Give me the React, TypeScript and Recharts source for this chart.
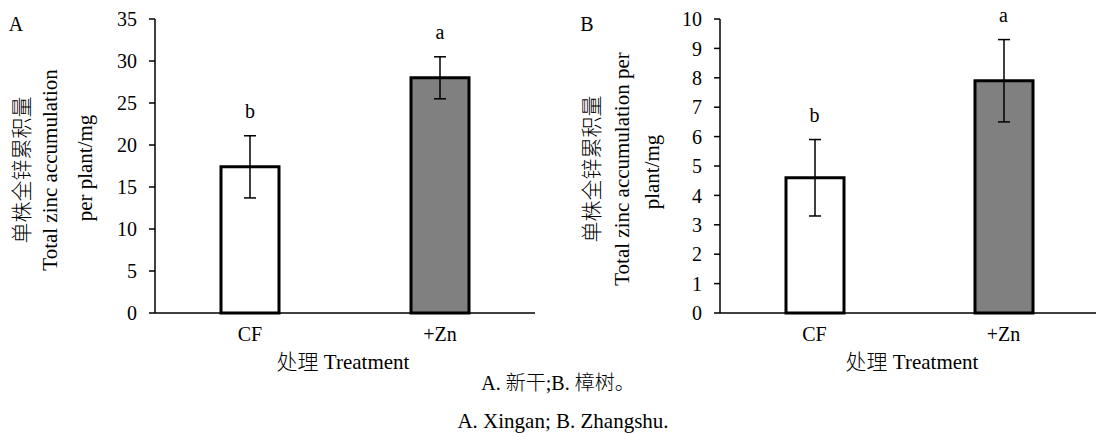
import React from 'react';
import { BarChart, Bar, XAxis, YAxis, ErrorBar, Cell, ReferenceDot } from 'recharts';

const categories = ['CF', '+Zn'];
const xinganMean = [17.4, 28.0];
const xinganErr = [3.7, 2.5];
const zhangshuMean = [4.6, 7.9];
const zhangshuErr = [1.3, 1.4];
const letters = ['b', 'a'];
const barFills = ['#ffffff', '#808080'];
const xinganTicks = [0, 5, 10, 15, 20, 25, 30, 35];
const zhangshuTicks = [0, 1, 2, 3, 4, 5, 6, 7, 8, 9, 10];
const boundaryTicks = [0, 1, 2];

const FONT = '"Liberation Serif", Tinos, "Times New Roman", Times, "DejaVu Serif", serif, "Noto Sans CJK SC"';

type PanelProps = {
  means: number[];
  errs: number[];
  yMax: number;
  yTicks: number[];
  left: number;
  width: number;
  yAxisWidth: number;
};

function Panel({ means, errs, yMax, yTicks, left, width, yAxisWidth }: PanelProps) {
  const data = categories.map((c, i) => ({ cat: c, mean: means[i], err: errs[i], letter: letters[i] }));
  return (
    <div style={{ position: 'absolute', left, top: 0 }}>
      <BarChart width={width} height={353} data={data} margin={{ top: 19, right: 2, bottom: 0, left: 0 }}>
        <XAxis
          xAxisId="tk"
          type="number"
          domain={[0, 2]}
          ticks={boundaryTicks}
          allowDataOverflow
          mirror
          axisLine={false}
          tick={false}
          tickSize={6}
          tickLine={{ stroke: '#000', strokeWidth: 1.5 }}
          height={0}
        />
        <XAxis
          xAxisId="cat"
          dataKey="cat"
          type="category"
          axisLine={{ stroke: '#000', strokeWidth: 1.5 }}
          tickLine={false}
          tickSize={0}
          tickMargin={14}
          height={40}
          tick={{ fill: '#000', fontSize: 20, fontFamily: FONT }}
        />
        <YAxis
          domain={[0, yMax]}
          ticks={yTicks}
          width={yAxisWidth}
          interval={0}
          axisLine={{ stroke: '#000', strokeWidth: 1.5 }}
          tickLine={{ stroke: '#000', strokeWidth: 1.5 }}
          tickSize={6}
          tickMargin={12}
          tick={{ fill: '#000', fontSize: 20, fontFamily: FONT }}
        />
        <Bar xAxisId="cat" dataKey="mean" barSize={58} stroke="#000" strokeWidth={3} isAnimationActive={false}>
          {data.map((d, i) => (
            <Cell key={d.cat} fill={barFills[i]} />
          ))}
          <ErrorBar dataKey="err" width={6} stroke="#000" strokeWidth={1.5} isAnimationActive={false} />
        </Bar>
        {data.map((d) => (
          <ReferenceDot
            key={'l' + d.cat}
            xAxisId="cat"
            x={d.cat}
            y={d.mean + d.err}
            r={0}
            fill="none"
            stroke="none"
            label={{ value: d.letter, position: 'top', offset: 18, fill: '#000', fontSize: 20, fontFamily: FONT }}
          />
        ))}
      </BarChart>
    </div>
  );
}

const textBase: React.CSSProperties = {
  position: 'absolute',
  fontFamily: FONT,
  fontWeight: 300,
  color: '#000',
  whiteSpace: 'nowrap',
  lineHeight: 1,
};

function RotText({ cx, cy, text, size = 21 }: { cx: number; cy: number; text: string; size?: number }) {
  return (
    <div
      style={{
        ...textBase,
        left: cx,
        top: cy,
        fontSize: size,
        transform: 'translate(-50%, -50%) rotate(-90deg)',
      }}
    >
      {text}
    </div>
  );
}

function CText({ cx, cy, text, size = 21 }: { cx: number; cy: number; text: string; size?: number }) {
  return (
    <div style={{ ...textBase, left: cx, top: cy, fontSize: size, transform: 'translate(-50%, -50%)' }}>
      {text}
    </div>
  );
}

export default function App() {
  return (
    <div
      style={{
        position: 'absolute',
        left: 0,
        top: 0,
        width: 1096,
        height: 433,
        overflow: 'hidden',
        background: '#fff',
        fontFamily: FONT,
      }}
    >
      <Panel means={xinganMean} errs={xinganErr} yMax={35} yTicks={xinganTicks} left={0} width={537} yAxisWidth={155} />
      <Panel means={zhangshuMean} errs={zhangshuErr} yMax={10} yTicks={zhangshuTicks} left={560} width={540} yAxisWidth={160} />

      <CText cx={16} cy={24} text="A" size={20} />
      <CText cx={587} cy={24} text="B" size={20} />

      <RotText cx={22} cy={170} text="单株全锌累积量" />
      <RotText cx={50} cy={170} text="Total zinc accumulation" />
      <RotText cx={85} cy={168} text="per plant/mg" />

      <RotText cx={592} cy={169} text="单株全锌累积量" />
      <RotText cx={622} cy={169} text="Total zinc accumulation per" />
      <RotText cx={652} cy={172} text="plant/mg" />

      <CText cx={343} cy={362} text="处理 Treatment" />
      <CText cx={912} cy={362} text="处理 Treatment" />

      <CText cx={558} cy={383} text="A. 新干;B. 樟树。" size={20} />
      <CText cx={563} cy={421} text="A. Xingan; B. Zhangshu." size={21} />
    </div>
  );
}
